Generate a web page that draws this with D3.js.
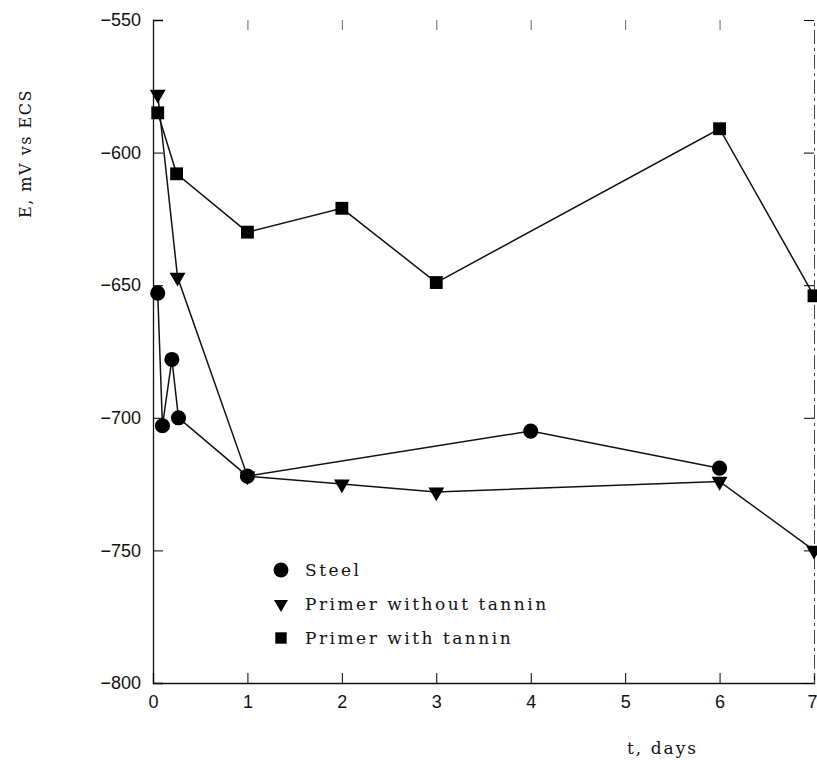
<!DOCTYPE html>
<html>
<head>
<meta charset="utf-8">
<script src="https://cdn.jsdelivr.net/npm/d3@7"></script>
<style>
  body { margin: 0; background: #fff; }
  .tick text { font-family: "Liberation Sans", Arial, sans-serif; font-size: 18px; fill: #111; }
  .lbl { font-family: "DejaVu Serif", serif; font-size: 16px; letter-spacing: 1.5px; fill: #111; }
</style>
</head>
<body>
<div id="chart"></div>
<script>
const WIDTH = 817;
const HEIGHT = 760;

// t, days
const steelT = [0.05, 0.1, 0.2, 0.27, 1, 4, 6];
const steelE = [-653, -703, -678, -700, -722, -705, -719];

const noTanninT = [0.05, 0.26, 1, 2, 3, 6, 7];
const noTanninE = [-578, -647, -722, -725, -728, -724, -750];

const tanninT = [0.05, 0.25, 1, 2, 3, 6, 7];
const tanninE = [-585, -608, -630, -621, -649, -591, -654];

const xTicks = [0, 1, 2, 3, 4, 5, 6, 7];
const yTicks = [-550, -600, -650, -700, -750, -800];

const seriesNames = ["Steel", "Primer without tannin", "Primer with tannin"];
const symbols = [d3.symbolCircle, d3.symbolTriangle, d3.symbolSquare];
const rotations = [0, 180, 0];  // triangles point down

const svg = d3.select("#chart").append("svg")
  .attr("width", WIDTH)
  .attr("height", HEIGHT);

const x = d3.scaleLinear().domain([0, 7]).range([153, 814]);
const y = d3.scaleLinear().domain([-800, -550]).range([683, 20]);

// axes, ticks point inward
svg.append("g")
  .attr("transform", `translate(${x(0)},0)`)
  .call(d3.axisLeft(y).tickValues(yTicks).tickSize(-10).tickPadding(12))
  .call(g => g.select(".domain").attr("stroke", "#111").attr("stroke-width", 1.3));

svg.append("g")
  .attr("transform", `translate(0,${y(-800)})`)
  .call(d3.axisBottom(x).tickValues(xTicks).tickSize(-10).tickPadding(12).tickFormat(d3.format("d")))
  .call(g => g.select(".domain").attr("stroke", "#111").attr("stroke-width", 1.3))
  .call(g => g.selectAll(".tick text").filter(d => d === 7)
    .attr("text-anchor", "end").attr("dx", 3));

// right frame (faded in the scan)
svg.append("g")
  .attr("transform", `translate(${x(7)},0)`)
  .call(d3.axisRight(y).tickValues(yTicks).tickSize(-10).tickFormat(""))
  .call(g => g.select(".domain").attr("stroke", "#444").attr("stroke-dasharray", "14,4,3,4"));

// top frame: only tick stubs survive
svg.append("g")
  .attr("transform", `translate(0,${y(-550)})`)
  .call(d3.axisTop(x).tickValues(xTicks.slice(1, 7)).tickSize(-10).tickFormat(""))
  .call(g => g.select(".domain").remove())
  .call(g => g.selectAll("line").attr("stroke", "#666"));

const series = [
  { t: steelT, e: steelE },
  { t: noTanninT, e: noTanninE },
  { t: tanninT, e: tanninE }
];

const line = d3.line().x(d => x(d[0])).y(d => y(d[1]));
const sizes = [180, 110, 165];

series.forEach((s, i) => {
  const pts = s.t.map((t, k) => [t, s.e[k]]);
  svg.append("path")
    .attr("d", line(pts))
    .attr("fill", "none")
    .attr("stroke", "#111")
    .attr("stroke-width", 1.5);
  svg.selectAll(null)
    .data(pts)
    .enter().append("path")
    .attr("transform", d => `translate(${x(d[0])},${y(d[1])}) rotate(${rotations[i]})`)
    .attr("d", d3.symbol().type(symbols[i]).size(sizes[i]))
    .attr("fill", "#000");
});

// legend
const legendY = [570, 604, 638];
const legendSizes = [175, 85, 130];
seriesNames.forEach((name, i) => {
  svg.append("path")
    .attr("transform", `translate(281,${legendY[i]}) rotate(${rotations[i]})`)
    .attr("d", d3.symbol().type(symbols[i]).size(legendSizes[i]))
    .attr("fill", "#000");
  svg.append("text")
    .attr("class", "lbl")
    .attr("x", 305)
    .attr("y", legendY[i] + 6)
    .style("font-size", "17px")
    .style("letter-spacing", "2.5px")
    .text(name);
});

// axis titles
svg.append("text")
  .attr("class", "lbl")
  .attr("transform", "translate(31,218) rotate(-90)")
  .text("E, mV vs ECS");

svg.append("text")
  .attr("class", "lbl")
  .attr("x", 627)
  .attr("y", 754)
  .style("font-size", "17px")
  .style("letter-spacing", "2px")
  .text("t, days");
</script>
</body>
</html>
